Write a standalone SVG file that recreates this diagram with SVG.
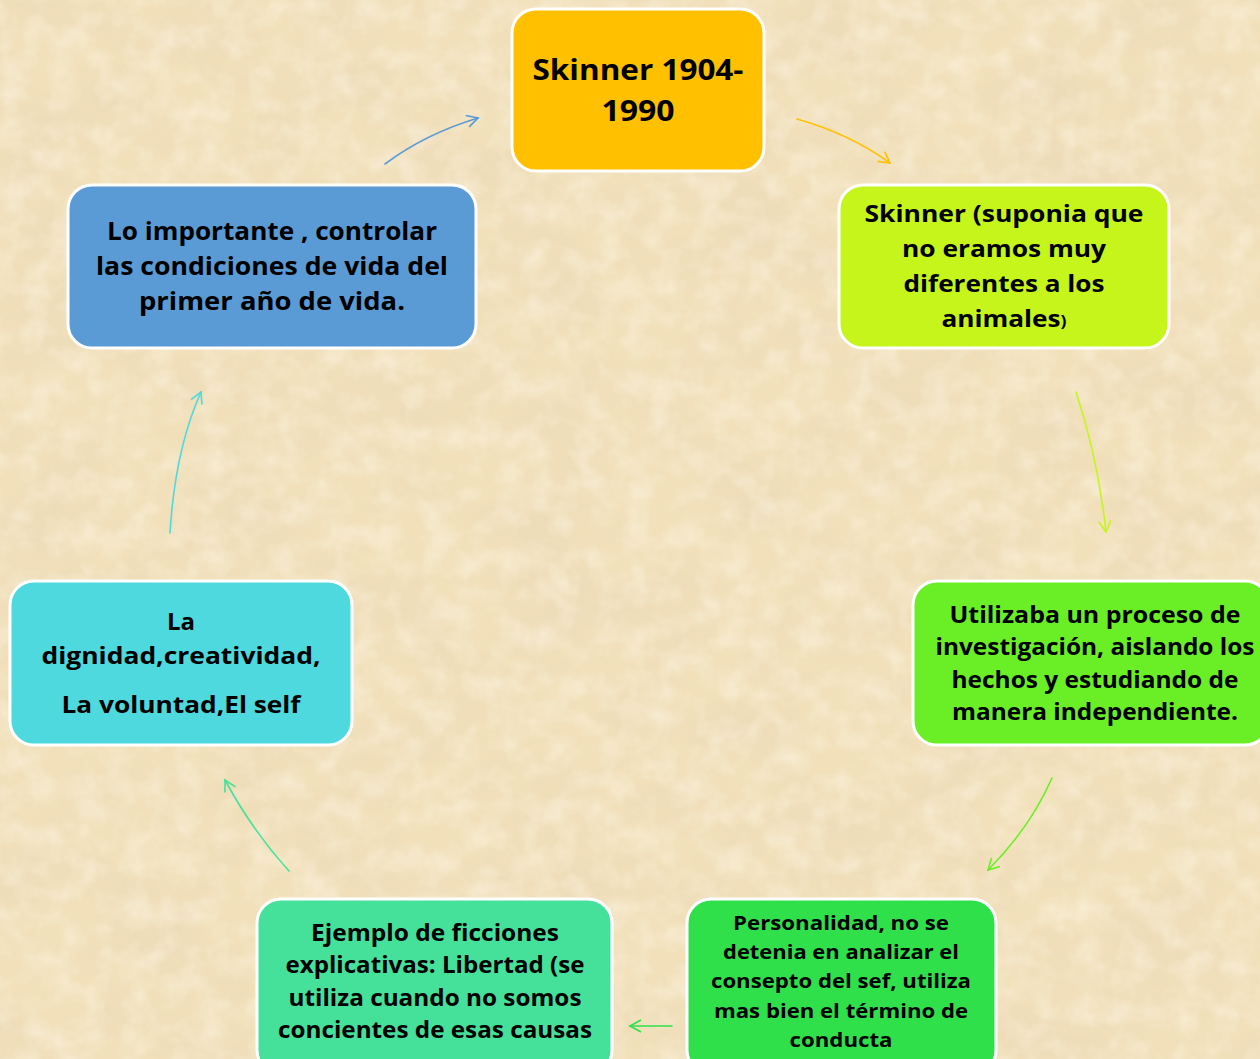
<svg xmlns="http://www.w3.org/2000/svg" width="1260" height="1059" viewBox="0 0 1260 1059">
  <style>
    .box { stroke: #ffffff; stroke-width: 3; }
    .lbl { font-family: "Open Sans", "Liberation Sans", sans-serif; font-weight: 700; fill: #000000; text-anchor: middle; font-variant-ligatures: none; }
    .link { fill: none; stroke-width: 1.6; stroke-linecap: round; }
  </style>
  <defs>
    <!-- parchment mottling -->
    <filter id="parchment" x="0" y="0" width="100%" height="100%">
      <feTurbulence type="fractalNoise" baseFrequency="0.010 0.014" numOctaves="4" seed="7" result="noise"/>
      <feColorMatrix in="noise" type="matrix"
        values="0 0 0 0 0.84
                0 0 0 0 0.70
                0 0 0 0 0.48
                1.5 0 0 0 -0.60" result="spots"/>
      <feComposite in="spots" in2="SourceGraphic" operator="in"/>
    </filter>
    <filter id="grain" x="0" y="0" width="100%" height="100%">
      <feTurbulence type="fractalNoise" baseFrequency="0.04" numOctaves="3" seed="3" result="n2"/>
      <feColorMatrix in="n2" type="matrix"
        values="0 0 0 0 1
                0 0 0 0 0.96
                0 0 0 0 0.86
                0 1.4 0 0 -0.55"/>
      <feComposite in2="SourceGraphic" operator="in"/>
    </filter>
    <marker id="ah-blue" markerUnits="userSpaceOnUse" markerWidth="20" markerHeight="20" refX="0" refY="0" orient="auto" viewBox="-14 -10 20 20" overflow="visible">
      <path d="M-11,-6 L0,0 L-11,6" fill="none" stroke="#5b9bd5" stroke-width="1.6"/>
    </marker>
    <marker id="ah-orange" markerUnits="userSpaceOnUse" markerWidth="20" markerHeight="20" refX="0" refY="0" orient="auto" viewBox="-14 -10 20 20" overflow="visible">
      <path d="M-11,-6 L0,0 L-11,6" fill="none" stroke="#ffc000" stroke-width="1.6"/>
    </marker>
    <marker id="ah-lime" markerUnits="userSpaceOnUse" markerWidth="20" markerHeight="20" refX="0" refY="0" orient="auto" viewBox="-14 -10 20 20" overflow="visible">
      <path d="M-11,-6 L0,0 L-11,6" fill="none" stroke="#c6f51b" stroke-width="1.6"/>
    </marker>
    <marker id="ah-green" markerUnits="userSpaceOnUse" markerWidth="20" markerHeight="20" refX="0" refY="0" orient="auto" viewBox="-14 -10 20 20" overflow="visible">
      <path d="M-11,-6 L0,0 L-11,6" fill="none" stroke="#6aee26" stroke-width="1.6"/>
    </marker>
    <marker id="ah-green2" markerUnits="userSpaceOnUse" markerWidth="20" markerHeight="20" refX="0" refY="0" orient="auto" viewBox="-14 -10 20 20" overflow="visible">
      <path d="M-11,-6 L0,0 L-11,6" fill="none" stroke="#2fe04a" stroke-width="1.6"/>
    </marker>
    <marker id="ah-teal" markerUnits="userSpaceOnUse" markerWidth="20" markerHeight="20" refX="0" refY="0" orient="auto" viewBox="-14 -10 20 20" overflow="visible">
      <path d="M-11,-6 L0,0 L-11,6" fill="none" stroke="#45e09a" stroke-width="1.6"/>
    </marker>
    <marker id="ah-cyan" markerUnits="userSpaceOnUse" markerWidth="20" markerHeight="20" refX="0" refY="0" orient="auto" viewBox="-14 -10 20 20" overflow="visible">
      <path d="M-11,-6 L0,0 L-11,6" fill="none" stroke="#4dd9dd" stroke-width="1.6"/>
    </marker>
  </defs>

  <!-- background -->
  <rect x="0" y="0" width="1260" height="1059" fill="#f1e0ba"/>
  <rect x="0" y="0" width="1260" height="1059" fill="#f1e0ba" filter="url(#parchment)"/>
  <rect x="0" y="0" width="1260" height="1059" fill="#f1e0ba" filter="url(#grain)" opacity="0.6"/>

  <!-- connectors -->
  <g id="connectors">
    <path class="link" d="M385,164 Q425,134 478,118" stroke="#5b9bd5" marker-end="url(#ah-blue)"/>
    <path class="link" d="M797,119 Q850,134 890,163" stroke="#ffc000" marker-end="url(#ah-orange)"/>
    <path class="link" d="M1076,392 Q1098,458 1106,532" stroke="#c6f51b" marker-end="url(#ah-lime)"/>
    <path class="link" d="M1052,778 Q1030,828 988,870" stroke="#6aee26" marker-end="url(#ah-green)"/>
    <path class="link" d="M672,1026 L630,1026" stroke="#2fe04a" marker-end="url(#ah-green2)"/>
    <path class="link" d="M289,871 Q252,830 225,780" stroke="#45e09a" marker-end="url(#ah-teal)"/>
    <path class="link" d="M170,533 Q175,450 201,392" stroke="#4dd9dd" marker-end="url(#ah-cyan)"/>
  </g>

  <g id="node-skinner">
    <rect class="box" x="512" y="9" width="252" height="162" rx="24" fill="#ffc000"/>
    <text class="lbl" font-size="29" x="638" y="80" textLength="211" lengthAdjust="spacingAndGlyphs">Skinner 1904-</text>
    <text class="lbl" font-size="29" x="638" y="121" textLength="73" lengthAdjust="spacingAndGlyphs">1990</text>
  </g>

  <g id="node-animales">
    <rect class="box" x="839" y="185" width="330" height="163" rx="24" fill="#c6f51b"/>
    <text class="lbl" font-size="24" x="1004" y="222" textLength="279" lengthAdjust="spacingAndGlyphs">Skinner (suponia que</text>
    <text class="lbl" font-size="24" x="1004" y="257" textLength="204" lengthAdjust="spacingAndGlyphs">no eramos muy</text>
    <text class="lbl" font-size="24" x="1004" y="292" textLength="201" lengthAdjust="spacingAndGlyphs">diferentes a los</text>
    <text class="lbl" font-size="24" x="1004" y="327" textLength="125" lengthAdjust="spacingAndGlyphs">animales<tspan font-size="16">)</tspan></text>
  </g>

  <g id="node-investigacion">
    <rect class="box" x="913" y="581" width="356" height="164" rx="24" fill="#6aee26"/>
    <text class="lbl" font-size="23" x="1095" y="623" textLength="291" lengthAdjust="spacingAndGlyphs">Utilizaba  un proceso de</text>
    <text class="lbl" font-size="23" x="1095" y="655" textLength="319" lengthAdjust="spacingAndGlyphs">investigación, aislando los</text>
    <text class="lbl" font-size="23" x="1095" y="688" textLength="287" lengthAdjust="spacingAndGlyphs">hechos y estudiando de</text>
    <text class="lbl" font-size="23" x="1095" y="720" textLength="286" lengthAdjust="spacingAndGlyphs">manera independiente.</text>
  </g>

  <g id="node-personalidad">
    <rect class="box" x="687" y="899" width="309" height="175" rx="24" fill="#2fe04a"/>
    <text class="lbl" font-size="20" x="841" y="930" textLength="216" lengthAdjust="spacingAndGlyphs">Personalidad, no se</text>
    <text class="lbl" font-size="20" x="841" y="959" textLength="236" lengthAdjust="spacingAndGlyphs">detenia en analizar el</text>
    <text class="lbl" font-size="20" x="841" y="988" textLength="260" lengthAdjust="spacingAndGlyphs">consepto del sef, utiliza</text>
    <text class="lbl" font-size="20" x="841" y="1018" textLength="254" lengthAdjust="spacingAndGlyphs">mas bien el término de</text>
    <text class="lbl" font-size="20" x="841" y="1047" textLength="103" lengthAdjust="spacingAndGlyphs">conducta</text>
  </g>

  <g id="node-ficciones">
    <rect class="box" x="257" y="899" width="355" height="175" rx="24" fill="#45e09a"/>
    <text class="lbl" font-size="23" x="435" y="941" textLength="248" lengthAdjust="spacingAndGlyphs">Ejemplo de ficciones</text>
    <text class="lbl" font-size="23" x="435" y="973" textLength="299" lengthAdjust="spacingAndGlyphs">explicativas: Libertad (se</text>
    <text class="lbl" font-size="23" x="435" y="1006" textLength="293" lengthAdjust="spacingAndGlyphs">utiliza cuando no somos</text>
    <text class="lbl" font-size="23" x="435" y="1038" textLength="314" lengthAdjust="spacingAndGlyphs">concientes de esas causas</text>
  </g>

  <g id="node-dignidad">
    <rect class="box" x="10" y="581" width="342" height="164" rx="24" fill="#4dd9dd"/>
    <text class="lbl" font-size="24" x="181" y="630" textLength="28" lengthAdjust="spacingAndGlyphs">La</text>
    <text class="lbl" font-size="24" x="181" y="664" textLength="279" lengthAdjust="spacingAndGlyphs">dignidad,creatividad,</text>
    <text class="lbl" font-size="24" x="181" y="713" textLength="239" lengthAdjust="spacingAndGlyphs">La voluntad,El self</text>
  </g>

  <g id="node-importante">
    <rect class="box" x="68" y="185" width="408" height="163" rx="24" fill="#5b9bd5"/>
    <text class="lbl" font-size="25" x="272" y="240" textLength="330" lengthAdjust="spacingAndGlyphs">Lo importante , controlar</text>
    <text class="lbl" font-size="25" x="272" y="275" textLength="352" lengthAdjust="spacingAndGlyphs">las condiciones de vida del</text>
    <text class="lbl" font-size="25" x="272" y="310" textLength="266" lengthAdjust="spacingAndGlyphs">primer  año de vida.</text>
  </g>
</svg>
